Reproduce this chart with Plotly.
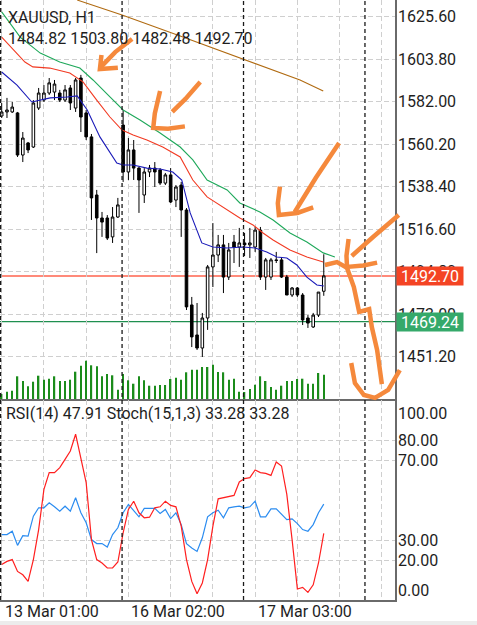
import plotly.graph_objects as go

# ---------------- data ----------------
symbol = "XAUUSD, H1"
bars = list(range(62))
opens = [1574.7, 1576.8, 1576.8, 1576.3, 1554.7, 1560.9, 1558.8, 1578.8, 1582.9, 1586.5,
         1587.0, 1586.5, 1582.9, 1589.1, 1578.8, 1594.2, 1576.3, 1564.0, 1534.2, 1522.4,
         1522.4, 1512.7, 1522.9, 1570.1, 1546.0, 1557.3, 1548.0, 1534.2, 1546.0, 1548.0,
         1547.0, 1540.3, 1544.5, 1531.6, 1539.3, 1526.5, 1477.8, 1462.4, 1455.7, 1471.1,
         1497.3, 1503.4, 1508.6, 1492.1, 1510.1, 1507.5, 1509.6, 1508.6, 1507.5, 1516.2,
         1492.1, 1492.1, 1500.9, 1500.9, 1492.1, 1482.9, 1486.5, 1482.9, 1471.1, 1466.5,
         1472.6, 1484.82]
highs = [1581.4, 1584.0, 1581.9, 1576.8, 1566.5, 1561.4, 1582.9, 1589.1, 1590.6, 1594.2,
         1593.2, 1588.1, 1590.6, 1590.6, 1594.2, 1595.8, 1577.8, 1565.5, 1536.8, 1525.5,
         1523.9, 1528.0, 1532.7, 1577.8, 1563.4, 1562.4, 1548.6, 1548.0, 1549.6, 1551.1,
         1548.0, 1545.5, 1548.0, 1539.3, 1540.9, 1527.5, 1481.9, 1478.8, 1473.7, 1498.3,
         1519.8, 1513.7, 1513.7, 1509.6, 1513.7, 1517.3, 1514.7, 1517.3, 1517.8, 1517.8,
         1501.9, 1501.9, 1505.0, 1502.4, 1493.2, 1487.0, 1487.0, 1483.9, 1472.6, 1473.7,
         1484.4, 1503.80]
lows = [1573.7, 1573.7, 1576.3, 1553.7, 1551.1, 1555.7, 1558.3, 1577.8, 1581.9, 1585.5,
        1582.9, 1581.9, 1581.9, 1577.8, 1576.8, 1566.5, 1562.4, 1521.4, 1504.4, 1512.7,
        1511.1, 1509.6, 1522.4, 1540.9, 1541.9, 1541.9, 1525.0, 1530.1, 1543.4, 1538.3,
        1539.3, 1539.3, 1530.1, 1528.0, 1512.7, 1475.2, 1456.2, 1454.7, 1451.1, 1465.0,
        1487.0, 1499.8, 1483.9, 1490.6, 1499.3, 1497.3, 1502.9, 1501.9, 1505.0, 1490.6,
        1485.5, 1490.6, 1499.3, 1491.6, 1482.9, 1481.9, 1481.9, 1467.5, 1466.0, 1466.0,
        1471.6, 1482.48]
closes = [1576.8, 1577.8, 1579.3, 1554.7, 1563.4, 1557.3, 1581.4, 1586.5, 1586.5, 1591.7,
          1591.1, 1582.9, 1588.1, 1581.4, 1593.2, 1574.2, 1564.0, 1532.7, 1522.4, 1520.3,
          1512.1, 1522.9, 1529.1, 1546.0, 1557.3, 1548.0, 1541.9, 1546.0, 1548.0, 1546.0,
          1540.3, 1544.5, 1530.6, 1538.3, 1526.5, 1476.8, 1461.4, 1455.7, 1471.1, 1497.3,
          1503.4, 1508.6, 1492.1, 1506.0, 1507.5, 1509.6, 1508.6, 1509.6, 1516.2, 1492.1,
          1500.9, 1500.9, 1500.6, 1492.1, 1482.9, 1486.5, 1482.9, 1470.1, 1468.5, 1472.6,
          1484.4, 1492.70]
volume = [500, 730, 830, 2270, 1800, 1270, 1730, 2330, 1930, 2030,
          2270, 1800, 1800, 1930, 2730, 3330, 3830, 3370, 3270, 2270,
          2500, 2370, 930, 2500, 1870, 1530, 2270, 1870, 1330, 1330,
          1400, 1400, 2000, 2130, 1930, 2670, 2930, 2930, 3200, 3200,
          3430, 2700, 2670, 1930, 2030, 730, 700, 1000, 1430, 2270,
          1800, 1200, 930, 1330, 1800, 1800, 2000, 2030, 1530, 1530,
          2600, 2430]
rsi = [32.7, 32.7, 34.4, 27.3, 32.2, 31.9, 41.9, 46.1, 46.1, 48.6,
       46.6, 44.4, 46.9, 44.4, 51.1, 43.6, 38.6, 30.2, 28.2, 28.2,
       26.5, 32.7, 36.1, 43.6, 47.8, 44.4, 41.6, 45.8, 45.8, 45.8,
       43.3, 45.3, 40.7, 43.6, 37.7, 28.2, 26.0, 24.3, 31.1, 41.6,
       43.6, 44.9, 41.1, 46.1, 46.6, 46.9, 46.1, 46.6, 49.4, 41.6,
       41.6, 45.6, 45.6, 42.7, 40.2, 40.6, 38.2, 35.2, 34.4, 37.7,
       43.6, 47.91]
stoch = [17.7, 19.3, 20.2, 14.3, 12.6, 9.3, 20.2, 35.2, 55.3, 63.7,
         63.7, 66.2, 70.3, 74.5, 82.9, 71.2, 58.7, 30.2, 20.2, 18.5,
         16.0, 16.0, 19.0, 33.6, 45.3, 49.4, 43.6, 41.1, 41.4, 46.1,
         46.6, 49.4, 47.3, 46.6, 36.9, 20.2, 9.3, 3.1, 8.5, 20.2,
         36.9, 50.6, 51.1, 51.6, 52.3, 59.0, 60.7, 61.2, 65.0, 63.7,
         63.3, 62.3, 69.0, 67.0, 52.8, 30.2, 5.5, 6.3, 3.8, 7.6,
         18.5, 33.28]

ma_blue_x = [0, 2.9, 5.7, 9.2, 12.4, 14.3, 16.2, 18.6, 21.8, 23, 24.9, 27.5, 30, 32.4,
             34.1, 35.7, 37.9, 40, 42.7, 45.7, 48, 50.2, 52.1, 54, 55.9, 57.8, 59.7, 61]
ma_blue = [1597.3, 1590.6, 1581.9, 1584.0, 1584.5, 1585.0, 1577.8, 1564.0, 1550.6, 1549.6,
           1549.6, 1548.0, 1547.5, 1546.0, 1541.9, 1525.0, 1509.6, 1507.5, 1507.0, 1507.5,
           1507.0, 1505.0, 1502.4, 1501.9, 1498.3, 1492.1, 1488.0, 1487.5]
ma_red_x = [0, 4.4, 5.9, 9.1, 12.9, 15.4, 18, 20.5, 22.8, 24.9, 27.5, 30.5, 33.8, 36.2,
            38.9, 41.3, 45.1, 47.6, 49.5, 51.4, 54.6, 57.8, 60.9]
ma_red = [1615.2, 1602.4, 1599.9, 1599.3, 1596.8, 1592.2, 1582.9, 1574.2, 1567.5, 1565.0,
          1562.4, 1558.8, 1553.7, 1541.9, 1533.2, 1529.1, 1522.4, 1518.8, 1514.7, 1511.1,
          1506.0, 1502.4, 1499.8]
ma_green_x = [0, 3.5, 7.3, 11, 14.8, 17.3, 20.5, 23, 26.2, 30, 33.8, 36.2, 38.9, 42.7,
              45.1, 48.9, 51.4, 54.6, 57.8, 60.9, 63.1]
ma_green = [1628.1, 1615.2, 1607.0, 1602.4, 1599.3, 1593.2, 1584.5, 1577.8, 1572.7, 1566.0,
            1558.8, 1552.2, 1541.9, 1536.8, 1530.1, 1525.5, 1521.4, 1514.7, 1510.1, 1504.5,
            1502.4]
ma_brown_x = [14.3, 22.8, 33.8, 45.1, 56.5, 60.9]
ma_brown = [1634.2, 1626.5, 1615.8, 1604.5, 1593.2, 1587.5]

price_ticks = [1625.60, 1603.80, 1582.00, 1560.20, 1538.40, 1516.60, 1494.80, 1473.00, 1451.20]
osc_ticks = [80, 70, 30, 20]
osc_edge_ticks = [100, 0]
last_price = 1492.70
green_level = 1469.24
time_label_bars = [0, 24, 48]
time_labels = ["13 Mar 01:00", "16 Mar 02:00", "17 Mar 03:00"]
day_sep_bars = [0, 23, 46, 69]

# hand-drawn orange strokes, in (bar, price) chart coordinates
strokes = [
    [(24.7, 1614.2), (21.5, 1607.5), (18.8, 1599.9)],
    [(18.9, 1606.0), (18.6, 1598.8), (22.0, 1599.5)],
    [(37.6, 1592.2), (34.8, 1583.5), (32.3, 1576.8)],
    [(30.0, 1587.5), (29.0, 1576.0), (28.7, 1568.6), (31.5, 1568.2), (34.7, 1569.4)],
    [(63.9, 1560.9), (59.5, 1543.0), (55.5, 1525.5)],
    [(52.7, 1538.5), (52.3, 1530.0), (52.5, 1523.9), (56.0, 1525.0), (59.0, 1527.8)],
    [(75.2, 1523.9), (70.5, 1513.0), (66.3, 1502.9)],
    [(65.7, 1511.6), (65.3, 1503.0), (65.4, 1497.3), (68.5, 1498.0), (71.1, 1499.5)],
    [(61.2, 1498.3), (63.5, 1499.8), (65.4, 1496.8), (66.7, 1487.0), (67.7, 1474.2),
     (69.6, 1475.7), (70.1, 1466.5), (71.1, 1454.7), (72.0, 1437.2)],
    [(66.2, 1448.0), (66.9, 1437.7), (68.6, 1431.6), (70.7, 1430.1), (73.2, 1434.2), (75.4, 1444.4)],
]

# ---------------- layout constants ----------------
W, H = 477, 625
PLOT_W = 395
X0, X1 = -0.32, 74.49
PY0, PY1 = 1429.55, 1634.22
MAIN_DOM = [201 / 600, 1.0]
OSC_DOM = [0.0, 200 / 600]
FONT = "Roboto"
TXT = "#1e1e1e"
GRID = "#cfcfcf"

fig = go.Figure()

fig.add_trace(go.Bar(x=bars, y=volume, width=0.27, marker=dict(color="#1b8c1b", line_width=0),
                     xaxis="x", yaxis="y3", showlegend=False, hoverinfo="skip"))

for xs, ys, col in [(ma_brown_x, ma_brown, "#b06a10"), (ma_green_x, ma_green, "#1ea85a"),
                    (ma_red_x, ma_red, "#f23a22"), (ma_blue_x, ma_blue, "#1a1ab8")]:
    fig.add_trace(go.Scatter(x=xs, y=ys, mode="lines", line=dict(color=col, width=1.1),
                             xaxis="x", yaxis="y", showlegend=False, hoverinfo="skip"))

fig.add_trace(go.Candlestick(
    x=bars, open=opens, high=highs, low=lows, close=closes,
    increasing=dict(line=dict(color="#000000", width=1), fillcolor="#ffffff"),
    decreasing=dict(line=dict(color="#000000", width=1), fillcolor="#000000"),
    whiskerwidth=0, xaxis="x", yaxis="y", showlegend=False, hoverinfo="skip"))

fig.add_trace(go.Scatter(x=bars, y=rsi, mode="lines", line=dict(color="#2b8cf0", width=1.2),
                         xaxis="x2", yaxis="y2", showlegend=False, hoverinfo="skip"))
fig.add_trace(go.Scatter(x=bars, y=stoch, mode="lines", line=dict(color="#ff1f1f", width=1.2),
                         xaxis="x2", yaxis="y2", showlegend=False, hoverinfo="skip"))

axis_common = dict(showgrid=True, gridcolor=GRID, griddash="5px,3px", gridwidth=1,
                   zeroline=False, showline=True, linecolor="#6a6a6a", linewidth=1.5)

fig.update_layout(
    width=W, height=H, autosize=False,
    margin=dict(l=0, r=W - PLOT_W, t=0, b=25),
    paper_bgcolor="white", plot_bgcolor="white",
    font=dict(family=FONT, size=16, color=TXT),
    showlegend=False,
    xaxis=dict(range=[X0, X1], domain=[0, 1], anchor="y", tick0=0, dtick=8,
               showticklabels=False, ticks="", rangeslider=dict(visible=False), **axis_common),
    xaxis2=dict(range=[X0, X1], domain=[0, 1], anchor="y2", matches="x", tick0=0, dtick=8,
                showticklabels=False, ticks="", **axis_common),
    yaxis=dict(domain=MAIN_DOM, range=[PY0, PY1], side="right", anchor="x",
               tickvals=price_ticks, ticktext=[f"{v:.2f}" for v in price_ticks],
               ticks="", ticklabelstandoff=-2,
               tickfont=dict(family=FONT, size=16, color=TXT), **axis_common),
    yaxis2=dict(domain=OSC_DOM, range=[0, 100], side="right", anchor="x2",
                tickvals=osc_ticks, ticktext=[f"{v:.2f}" for v in osc_ticks],
                ticks="", ticklabelstandoff=-2,
                tickfont=dict(family=FONT, size=16, color=TXT), **axis_common),
    yaxis3=dict(overlaying="y", range=[0, 39900], visible=False, side="left"),
)

shapes = []
for b in day_sep_bars:
    shapes.append(dict(type="line", xref="x", yref="paper", x0=b - 0.2, x1=b - 0.2, y0=0, y1=1,
                       line=dict(color="#1a1a1a", width=1.3, dash="4px,3px"), layer="above"))
shapes.append(dict(type="line", xref="x", yref="y", x0=X0, x1=X1, y0=last_price, y1=last_price,
                   line=dict(color="#ff8a7a", width=2), layer="below"))
shapes.append(dict(type="line", xref="x", yref="y", x0=X0, x1=X1, y0=green_level, y1=green_level,
                   line=dict(color="#1f8f4f", width=1.2), layer="below"))
shapes.append(dict(type="rect", xref="paper", yref="paper", x0=0, x1=W / PLOT_W,
                   y0=-25 / 600, y1=-21 / 600, fillcolor="#ececec", line=dict(width=0)))


def to_paper(b, p):
    xp = (b - X0) / (X1 - X0)
    yp = MAIN_DOM[0] + (p - PY0) / (PY1 - PY0) * (MAIN_DOM[1] - MAIN_DOM[0])
    return xp, yp


for st in strokes:
    pts = [to_paper(b, p) for b, p in st]
    path = "M " + " L ".join(f"{x:.5f},{y:.5f}" for x, y in pts)
    shapes.append(dict(type="path", xref="paper", yref="paper", path=path,
                       line=dict(color="#f5893c", width=4.5), layer="above"))

annotations = [
    dict(xref="paper", yref="paper", x=6 / PLOT_W, y=(600 - 17.7) / 600, text=symbol,
         showarrow=False, xanchor="left", yanchor="middle"),
    dict(xref="paper", yref="paper", x=6 / PLOT_W, y=(600 - 38.8) / 600,
         text=f"{opens[-1]:.2f} {highs[-1]:.2f} {lows[-1]:.2f} {closes[-1]:.2f}",
         showarrow=False, xanchor="left", yanchor="middle"),
    dict(xref="paper", yref="paper", x=4 / PLOT_W, y=(600 - 413) / 600,
         text=f"RSI(14) {rsi[-1]:.2f} Stoch(15,1,3) {stoch[-1]:.2f} {stoch[-1]:.2f}",
         showarrow=False, xanchor="left", yanchor="middle"),
    dict(xref="paper", yref="paper", x=396 / PLOT_W, y=(600 - 413) / 600,
         text=f"{osc_edge_ticks[0]:.2f}", showarrow=False, xanchor="left", yanchor="middle"),
    dict(xref="paper", yref="paper", x=396 / PLOT_W, y=(600 - 590.7) / 600,
         text=f"{osc_edge_ticks[1]:.2f}", showarrow=False, xanchor="left", yanchor="middle"),
    dict(xref="paper", yref="y", x=396 / PLOT_W, y=last_price, text=f"{last_price:.2f}",
         showarrow=False, xanchor="left", yanchor="middle", width=66, height=18,
         bgcolor="#f44424", font=dict(color="white", size=16, family=FONT), borderpad=0),
    dict(xref="paper", yref="y", x=396 / PLOT_W, y=green_level, text=f"{green_level:.2f}",
         showarrow=False, xanchor="left", yanchor="middle", width=66, height=18,
         bgcolor="#35a96a", font=dict(color="white", size=16, family=FONT), borderpad=0),
]
for b, t in zip(time_label_bars, time_labels):
    annotations.append(dict(xref="x2", yref="paper", x=b, y=(600 - 611) / 600, text=t,
                            showarrow=False, xanchor="left", yanchor="middle", xshift=1))

fig.update_layout(shapes=shapes, annotations=annotations)
fig.write_html("out.html")
